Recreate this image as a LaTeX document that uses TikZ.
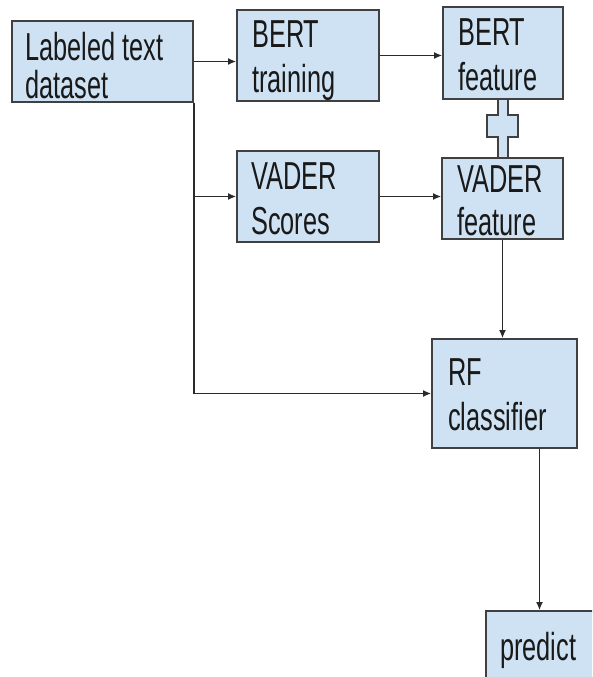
\documentclass[tikz,border=0pt]{standalone}
\usepackage{fontspec}
\setmainfont{Liberation Sans}[FakeStretch=0.65]
\usepackage{xcolor}
\usetikzlibrary{arrows.meta,positioning}
\definecolor{boxfill}{HTML}{CFE2F3}
\definecolor{boxline}{HTML}{404040}
\definecolor{wire}{HTML}{2A2A2A}
\newcommand{\lblfont}{\fontsize{39}{45}\selectfont}

\begin{document}
\begin{tikzpicture}[x=1pt, y=-1pt,
  box/.style={
    draw=boxline, fill=boxfill, line width=1.8pt,
    rectangle, inner sep=0pt
  },
  lbl/.style={anchor=north west, inner sep=0pt, align=left,
    font=\lblfont, text=black!90},
  fwd/.style={-{Latex[length=8pt,width=7pt]}, line width=1.4pt, wire}]

\useasboundingbox (0,0) rectangle (592,677);
\clip (0,0) rectangle (592,677);

% Plus-shaped joint between the two feature boxes
\draw[box] (498,99) -- (498,115) -- (487,115) -- (487,137) -- (498,137)
  -- (498,158) -- (508,158) -- (508,137) -- (518,137) -- (518,115)
  -- (508,115) -- (508,99) -- cycle;

% Boxes
\node[box, minimum width=181, minimum height=81] (data)    at (102.5,61.5) {};
\node[box, minimum width=142, minimum height=91] (btrain)  at (308,55.5) {};
\node[box, minimum width=120, minimum height=92] (bfeat)   at (503,53) {};
\node[box, minimum width=142, minimum height=91] (vscores) at (308,196.5) {};
\node[box, minimum width=121, minimum height=81] (vfeat)   at (502.5,198.5) {};
\node[box, minimum width=145, minimum height=109] (rf)     at (504.5,393.5) {};
\node[box, minimum width=134, minimum height=100] (pred)   at (553,661) {};

% Box texts
\node[lbl] (data-t)    at (25,32)   {Labeled text\\[-7pt]dataset};
\node[lbl] (btrain-t)  at (252,20)  {BERT\\training};
\node[lbl] (bfeat-t)   at (458,18)  {BERT\\feature};
\node[lbl] (vscores-t) at (251,162) {VADER\\Scores};
\node[lbl] (vfeat-t)   at (457,165) {VADER\\[-2pt]feature};
\node[lbl] (rf-t)      at (448,358) {RF\\classifier};
\node[lbl] (pred-t)    at (500,632) {predict};

% Connectors
\draw[fwd] (data.east) -- (data.east -| btrain.west);
\draw[fwd] (data.south east) |- (rf.west);
\draw[fwd] (data.south east |- vscores.west) -- (vscores.west);
\draw[fwd] (btrain.east) -- (btrain.east -| bfeat.west);
\draw[fwd] (vscores.east) -- (vscores.east -| vfeat.west);
\draw[fwd] (vfeat.south) -- (vfeat.south |- rf.north);
\draw[fwd] ([xshift=35pt]rf.south) -- ([xshift=35pt]rf.south |- pred.north);

\end{tikzpicture}
\end{document}
